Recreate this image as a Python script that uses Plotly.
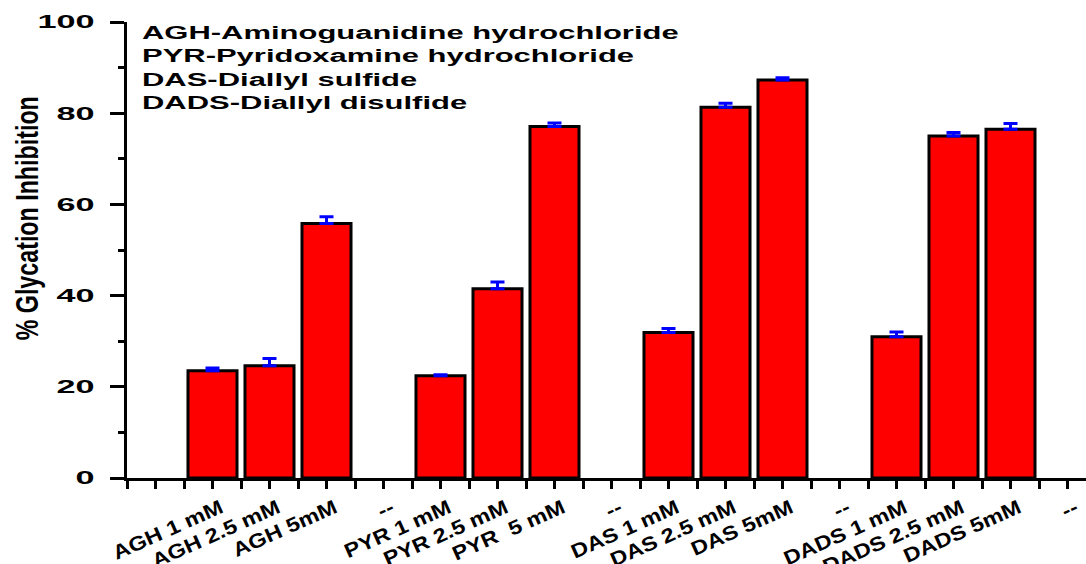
import plotly.graph_objects as go

categories = ["", "AGH 1 mM", "AGH 2.5 mM", "AGH 5mM", "--",
              "PYR 1 mM", "PYR 2.5 mM", "PYR  5 mM", "--",
              "DAS 1 mM", "DAS 2.5 mM", "DAS 5mM", "--",
              "DADS 1 mM", "DADS 2.5 mM", "DADS 5mM", "--"]
inhibition = [None, 23.5, 24.6, 55.8, None,
              22.4, 41.5, 77.1, None,
              31.9, 81.3, 87.3, None,
              31.0, 75.0, 76.5, None]
err_plus = [None, 0.6, 1.6, 1.5, None,
            0.25, 1.5, 0.75, None,
            0.9, 0.9, 0.45, None,
            1.0, 0.75, 1.25, None]
y_ticks = [0, 20, 40, 60, 80, 100]
legend_lines = ["AGH-Aminoguanidine hydrochloride",
                "PYR-Pyridoxamine hydrochloride",
                "DAS-Diallyl sulfide",
                "DADS-Diallyl disulfide"]

xpos = list(range(len(categories)))
W, H = 1086, 564
L, R, T, B = 127, 0, 22, 86
pw = W - L - R
ph = H - T - B

fig = go.Figure()
fig.add_trace(go.Bar(
    x=xpos, y=inhibition, width=0.86,
    marker=dict(color="#ff0000", line=dict(color="black", width=3)),
    error_y=dict(type="data", symmetric=False, array=err_plus,
                 arrayminus=[0 if e is not None else None for e in err_plus],
                 color="#0000ff", thickness=3, width=7),
    showlegend=False,
))

FONT = "Liberation Sans, Arial, sans-serif"
fig.update_layout(
    width=W, height=H,
    margin=dict(l=L, r=R, t=T, b=B, pad=0),
    paper_bgcolor="white", plot_bgcolor="white",
    xaxis=dict(
        range=[-0.5, -0.5 + pw / 57.0],
        tickmode="array", tickvals=xpos, ticktext=categories,
        tickangle=-24,
        tickfont=dict(family=FONT, size=20, color="black", weight="bold"),
        ticks="outside", ticklen=8, tickwidth=2.5, tickcolor="black",
        minor=dict(ticks="outside", tick0=-0.5, dtick=1, ticklen=8,
                   tickwidth=2.5, tickcolor="black"),
        showline=True, linecolor="black", linewidth=2.5,
        showgrid=False, zeroline=False, automargin=False,
        ticklabelstandoff=0, ticklabelshift=8,
    ),
    yaxis=dict(
        range=[0, 100], tickmode="array", tickvals=y_ticks,
        tickfont=dict(family=FONT, size=18, color="black", weight="bold"),
        ticks="outside", ticklen=14, tickwidth=2.5, tickcolor="black",
        minor=dict(ticks="outside", dtick=10, ticklen=6, tickwidth=2.5,
                   tickcolor="black"),
        showline=True, linecolor="black", linewidth=2.5,
        showgrid=False, zeroline=False, automargin=False,
        ticklabelstandoff=12,
    ),
)

fig.add_annotation(
    text="% Glycation Inhibition", textangle=-90,
    xref="paper", yref="paper",
    x=(27 - L) / pw, y=(H - B - 218) / ph,
    xanchor="center", yanchor="middle", showarrow=False,
    font=dict(family=FONT, size=31, color="black", weight="bold"),
)

for i, line in enumerate(legend_lines):
    yc = 33 + i * 23.3
    fig.add_annotation(
        text=line, xref="paper", yref="paper", align="left",
        x=(140 - L) / pw, y=(H - B - yc) / ph,
        xanchor="left", yanchor="middle", showarrow=False,
        font=dict(family=FONT, size=18, color="black", weight="bold"),
    )

# The reference artwork is horizontally stretched; reproduce by adjusting text length.
post_js = """
var gd = document.getElementById('{plot_id}');
function stretch(sel, f) {
  gd.querySelectorAll(sel).forEach(function(t) {
    var w = t.getComputedTextLength();
    if (w > 0) {
      t.setAttribute('lengthAdjust', 'spacingAndGlyphs');
      t.setAttribute('textLength', (w * f).toFixed(2));
    }
  });
}
stretch('.xtick text', 1.17);
stretch('.ytick text', 1.9);
stretch('g.annotation[data-index="0"] text.annotation-text', 0.75);
['1','2','3','4'].forEach(function(k) {
  stretch('g.annotation[data-index="' + k + '"] text.annotation-text', 1.72);
});
"""

fig.write_html("out.html", post_script=post_js)
